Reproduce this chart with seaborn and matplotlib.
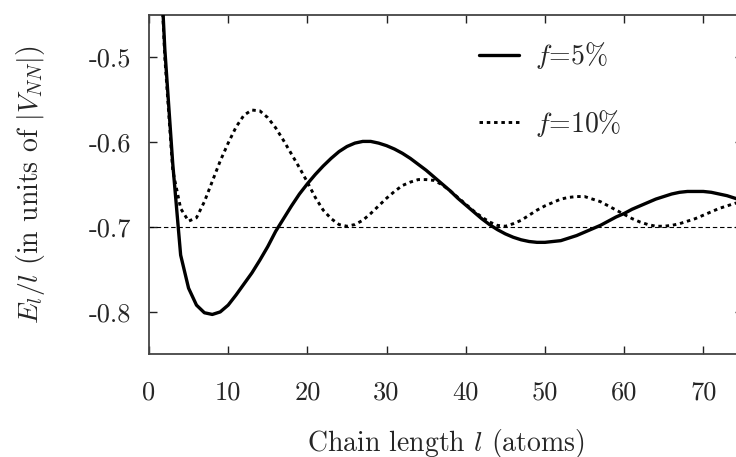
import numpy as np
import pandas as pd
import matplotlib
matplotlib.use("Agg")
import matplotlib.pyplot as plt
import seaborn as sns

# chain length (atoms)
chain_length = list(range(1, 76))

# E_l / l for f = 5 %
energy_f5 = [
    -0.300, -0.490, -0.625, -0.733, -0.772, -0.792, -0.801, -0.803, -0.800, -0.792,
    -0.780, -0.767, -0.754, -0.739, -0.723, -0.705, -0.690, -0.675, -0.661, -0.649,
    -0.638, -0.628, -0.619, -0.611, -0.605, -0.601, -0.599, -0.599, -0.601, -0.604,
    -0.608, -0.613, -0.619, -0.626, -0.633, -0.641, -0.649, -0.657, -0.666, -0.674,
    -0.682, -0.690, -0.697, -0.703, -0.708, -0.712, -0.715, -0.717, -0.718, -0.718,
    -0.717, -0.716, -0.713, -0.710, -0.706, -0.702, -0.698, -0.693, -0.688, -0.684,
    -0.679, -0.675, -0.671, -0.667, -0.664, -0.661, -0.659, -0.658, -0.658, -0.658,
    -0.659, -0.661, -0.663, -0.666, -0.669,
]

# E_l / l for f = 10 %
energy_f10 = [
    -0.300, -0.500, -0.633, -0.678, -0.693, -0.689, -0.670, -0.646, -0.622, -0.601,
    -0.582, -0.568, -0.562, -0.563, -0.571, -0.583, -0.598, -0.614, -0.630, -0.647,
    -0.665, -0.680, -0.690, -0.697, -0.699, -0.697, -0.692, -0.684, -0.675, -0.666,
    -0.658, -0.651, -0.647, -0.644, -0.644, -0.645, -0.650, -0.657, -0.665, -0.673,
    -0.681, -0.688, -0.694, -0.698, -0.699, -0.696, -0.692, -0.686, -0.680, -0.675,
    -0.671, -0.667, -0.665, -0.664, -0.664, -0.667, -0.670, -0.675, -0.680, -0.685,
    -0.690, -0.694, -0.697, -0.699, -0.699, -0.698, -0.696, -0.693, -0.690, -0.686,
    -0.682, -0.678, -0.675, -0.672, -0.670,
]

reference_level = -0.7

x_ticks = [0, 10, 20, 30, 40, 50, 60, 70]
x_ticklabels = ["0", "10", "20", "30", "40", "50", "60", "70"]
y_ticks = [-0.8, -0.7, -0.6, -0.5]
y_ticklabels = ["-0.8", "-0.7", "-0.6", "-0.5"]

sns.set_style("ticks")
plt.rcParams["font.family"] = ["cmr10", "DejaVu Serif"]
plt.rcParams["mathtext.fontset"] = "cm"
plt.rcParams["axes.unicode_minus"] = False
plt.rcParams["axes.formatter.use_mathtext"] = True

fig = plt.figure(figsize=(7.36, 4.57), dpi=100)
ax = fig.add_axes([0.2024, 0.2247, 0.807, 0.7424])

df = pd.DataFrame({"l": chain_length, "f5": energy_f5, "f10": energy_f10})

ax.axhline(reference_level, color="black", lw=0.8, ls=(0, (4, 2.5)), zorder=1)
sns.lineplot(data=df, x="l", y="f5", ax=ax, color="black", lw=2.4,
             label="$f$=5%", zorder=3)
sns.lineplot(data=df, x="l", y="f10", ax=ax, color="black", lw=2.1,
             ls=(0, (1.2, 1.3)), label="$f$=10%", zorder=2)

ax.set_xlim(0, 75)
ax.set_ylim(-0.85, -0.45)
ax.set_xticks(x_ticks)
ax.set_xticklabels(x_ticklabels)
ax.set_yticks(y_ticks)
ax.set_yticklabels(y_ticklabels)

for side in ["top", "right", "left", "bottom"]:
    ax.spines[side].set_visible(True)
    ax.spines[side].set_color("#444444")
    ax.spines[side].set_linewidth(1.3)

ax.tick_params(axis="both", direction="in", length=6, width=1, color="#222222",
               top=True, right=True, labelsize=19)
ax.tick_params(axis="x", pad=19)
ax.tick_params(axis="y", pad=13)

ax.set_xlabel("Chain length $l$ (atoms)", fontsize=20, labelpad=16)
ax.set_ylabel("$E_l/l$ (in units of $|V_{NN}|$)", fontsize=20, labelpad=30)

leg = ax.legend(loc="upper left", bbox_to_anchor=(0.555, 0.925), frameon=False,
                fontsize=20, handlelength=1.47, handletextpad=0.55,
                labelspacing=1.3, borderpad=0, borderaxespad=0)

fig.savefig("out.png", dpi=100)
